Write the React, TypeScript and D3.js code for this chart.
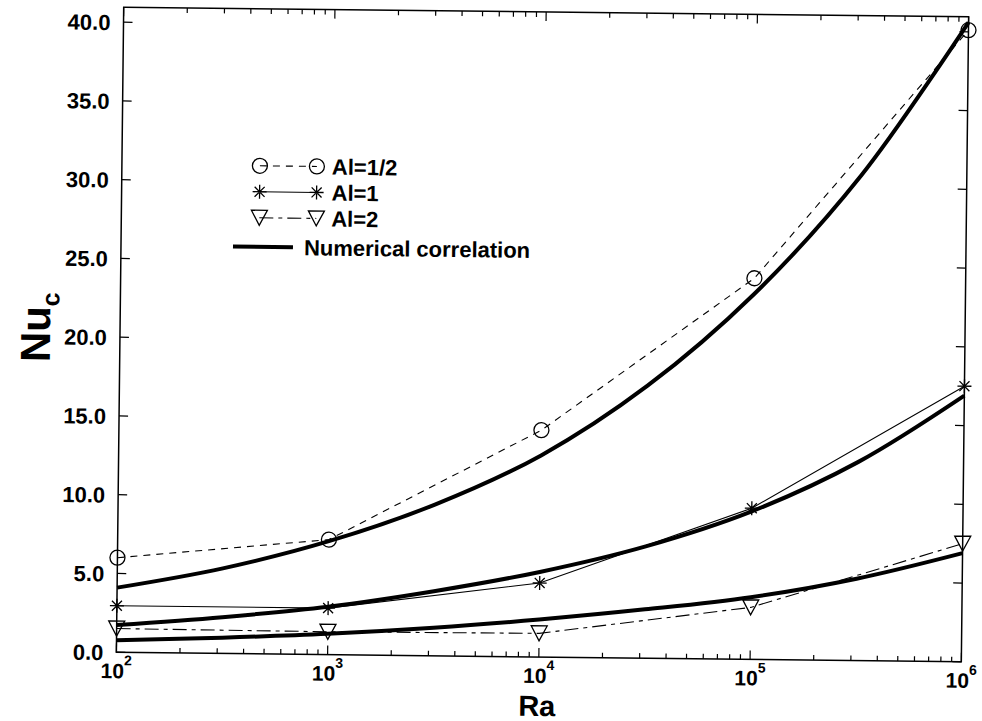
import React from 'react';
import * as d3 from 'd3';

// Rayleigh numbers where the data were taken
const raPoints = [1e2, 1e3, 1e4, 1e5, 1e6];
// measured Nu_c for each aspect ratio
const nuHalf = [6.0, 7.3, 14.4, 24.2, 40.1];
const nuOne = [2.95, 2.95, 4.7, 9.6, 17.5];
const nuTwo = [1.5, 1.45, 1.5, 3.3, 7.5];

const corrRa = [1e2, 316, 1e3, 3162, 1e4, 31623, 1e5, 316228, 1e6];
const corrHalf = [4.1, 5.4, 7.2, 9.6, 12.8, 17.3, 23.2, 30.8, 40.6];
const corrOne = [1.72, 2.3, 3.04, 4.1, 5.4, 7.1, 9.4, 12.6, 16.9];
const corrTwo = [0.76, 1.0, 1.32, 1.78, 2.38, 3.1, 3.95, 5.2, 6.9];

const yTicks = [0, 5, 10, 15, 20, 25, 30, 35, 40];
const xMajor = [2, 3, 4, 5, 6];
const legendLabels = ['Al=1/2', 'Al=1', 'Al=2', 'Numerical correlation'];

const W = 982, H = 721;
const left = 120, right = 965, top = 12, bottom = 657;
const font = '"Liberation Sans", Arial, Helvetica, sans-serif';

const starPath = 'M -7,0 L 7,0 M 0,-7 L 0,7 M -5,-5 L 5,5 M -5,5 L 5,-5';
const triPath = 'M -8,-7.5 L 8,-7.5 L 0,7.5 Z';

function Marker({kind, cx, cy}: {kind: string, cx: number, cy: number}) {
    if (kind === 'circle') {
        return <circle cx={cx} cy={cy} r={7.5} fill="none" stroke="#000" strokeWidth={1.3} />;
    }
    const d = kind === 'star' ? starPath : triPath;
    return <path d={d} transform={`translate(${cx},${cy})`} fill="none" stroke="#000" strokeWidth={1.3} />;
}

export default function App() {
    const x = d3.scaleLog().domain([1e2, 1e6]).range([left, right]);
    const y = d3.scaleLinear().domain([0, 40.95]).range([bottom, top]);

    const line = d3.line<[number, number]>().x(d => x(d[0])).y(d => y(d[1]));
    const smooth = d3.line<[number, number]>().x(d => x(d[0])).y(d => y(d[1])).curve(d3.curveCatmullRom);

    const series = [
        {vals: nuHalf, kind: 'circle', dash: '7,6', corr: corrHalf},
        {vals: nuOne, kind: 'star', dash: null, corr: corrOne},
        {vals: nuTwo, kind: 'triangle', dash: '14,5,4,5', corr: corrTwo},
    ];

    // log ticks on the x axis
    const xTicks: {v: number, major: boolean}[] = [];
    for (let e = 2; e < 6; e++) {
        for (let k = 1; k < 10; k++) xTicks.push({v: k * 10 ** e, major: k === 1});
    }
    xTicks.push({v: 1e6, major: true});

    const legendRows = [169, 195, 221, 250];

    return (
        <svg width={W} height={H} style={{position: 'absolute', left: 0, top: 0, background: '#fff'}}>
            <g transform="rotate(0.65, 542, 335)" fontFamily={font}>
                {/* frame */}
                <rect x={left} y={top} width={right - left} height={bottom - top} fill="none" stroke="#000" strokeWidth={1.5} />

                {xTicks.map((t, i) => {
                    const len = t.major ? 9 : 5;
                    return (
                        <g key={'xt' + i}>
                            <line x1={x(t.v)} x2={x(t.v)} y1={bottom} y2={bottom - len} stroke="#000" strokeWidth={1.2} />
                            <line x1={x(t.v)} x2={x(t.v)} y1={top} y2={top + len} stroke="#000" strokeWidth={1.2} />
                        </g>
                    );
                })}
                {xMajor.map(e => (
                    <text key={'xl' + e} x={x(10 ** e)} y={683} textAnchor="middle" fontSize={21} fontWeight="bold">
                        10<tspan fontSize={14} dy={-13}>{e}</tspan>
                    </text>
                ))}

                {yTicks.map(t => (
                    <g key={'yt' + t}>
                        <line x1={left} x2={left + 9} y1={y(t)} y2={y(t)} stroke="#000" strokeWidth={1.2} />
                        <line x1={right} x2={right - 9} y1={y(t)} y2={y(t)} stroke="#000" strokeWidth={1.2} />
                        <text x={107} y={y(t) + 8} textAnchor="end" fontSize={22} fontWeight="bold">{t.toFixed(1)}</text>
                    </g>
                ))}

                {/* axis titles */}
                <text x={541} y={716} textAnchor="middle" fontSize={29} fontWeight="bold">Ra</text>
                <text transform="translate(50,333) rotate(-90)" textAnchor="middle" fontSize={42} fontWeight="bold">
                    Nu<tspan fontSize={25} dy={9}>c</tspan>
                </text>

                {/* correlation curves */}
                {series.map((s, i) => (
                    <path key={'c' + i} d={smooth(corrRa.map((r, j) => [r, s.corr[j]]))!} fill="none" stroke="#000" strokeWidth={4} />
                ))}

                {/* data lines and markers */}
                {series.map((s, i) => (
                    <g key={'s' + i}>
                        <path d={line(raPoints.map((r, j) => [r, s.vals[j]]))!} fill="none" stroke="#000" strokeWidth={1.1}
                            strokeDasharray={s.dash ?? undefined} />
                        {raPoints.map((r, j) => <Marker key={j} kind={s.kind} cx={x(r)} cy={y(s.vals[j])} />)}
                    </g>
                ))}

                {/* legend */}
                {series.map((s, i) => (
                    <g key={'l' + i}>
                        <line x1={258} x2={315} y1={legendRows[i]} y2={legendRows[i]} stroke="#000" strokeWidth={1.1}
                            strokeDasharray={s.dash ?? undefined} />
                        <Marker kind={s.kind} cx={258} cy={legendRows[i]} />
                        <Marker kind={s.kind} cx={315} cy={legendRows[i]} />
                        <text x={330} y={legendRows[i] + 8} fontSize={22} fontWeight="bold">{legendLabels[i]}</text>
                    </g>
                ))}
                <line x1={232} x2={292} y1={legendRows[3]} y2={legendRows[3]} stroke="#000" strokeWidth={4} />
                <text x={303} y={legendRows[3] + 8} fontSize={22} fontWeight="bold">{legendLabels[3]}</text>
            </g>
        </svg>
    );
}
